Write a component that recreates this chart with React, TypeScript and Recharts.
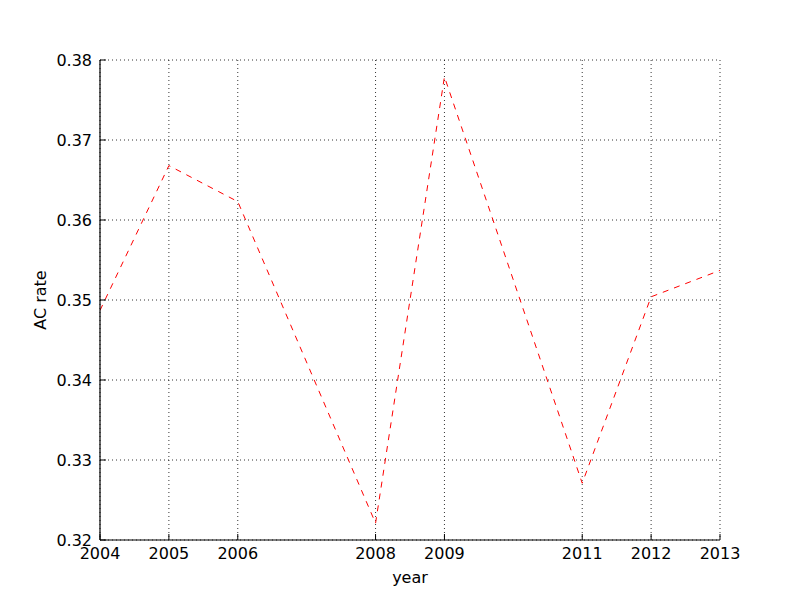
import { LineChart, Line, XAxis, YAxis, CartesianGrid } from 'recharts';

const years = [2004, 2005, 2006, 2008, 2009, 2011, 2012, 2013];
const acRate = [0.3487, 0.3668, 0.3623, 0.3221, 0.3779, 0.3271, 0.3504, 0.3537];
const yTicks = [0.32, 0.33, 0.34, 0.35, 0.36, 0.37, 0.38];

const data = years.map((year, i) => ({ year, rate: acRate[i] }));

const font = 'DejaVu Sans, sans-serif';
const tickStyle = { fontSize: 16, fill: '#000', fontFamily: font };
const axisLine = { stroke: '#000', strokeWidth: 1.2 };
const tickLine = { stroke: '#000', strokeWidth: 1 };

function YLabel(props: any) {
  const vb = props.viewBox || {};
  const cx = 40;
  const cy = vb.y + vb.height / 2;
  return (
    <text
      x={cx}
      y={cy}
      transform={`rotate(-90 ${cx} ${cy})`}
      textAnchor="middle"
      dominantBaseline="central"
      fontSize={16}
      fontFamily={font}
      fill="#000"
    >
      AC rate
    </text>
  );
}

export default function App() {
  return (
    <div style={{ position: 'absolute', left: 0, top: 0, background: '#fff' }}>
      <LineChart
        width={800}
        height={600}
        data={data}
        margin={{ top: 60, right: 80, bottom: 30, left: 40 }}
      >
        <CartesianGrid stroke="#000" strokeDasharray="1 3" strokeWidth={0.8} />
        <XAxis
          dataKey="year"
          type="number"
          domain={[2004, 2013]}
          ticks={years}
          allowDataOverflow
          height={30}
          tickSize={-6}
          tickMargin={14}
          tick={tickStyle}
          axisLine={axisLine}
          tickLine={tickLine}
          label={{ value: 'year', position: 'bottom', offset: 2, fontSize: 16, fill: '#000', fontFamily: font }}
        />
        <XAxis
          xAxisId="top"
          orientation="top"
          dataKey="year"
          type="number"
          domain={[2004, 2013]}
          ticks={years}
          allowDataOverflow
          height={0}
          tickSize={-6}
          tickFormatter={() => ''}
          axisLine={axisLine}
          tickLine={tickLine}
        />
        <YAxis
          type="number"
          domain={[0.32, 0.38]}
          ticks={yTicks}
          allowDataOverflow
          width={60}
          tickSize={-6}
          tickMargin={14}
          tick={tickStyle}
          tickFormatter={(v: number) => v.toFixed(2)}
          axisLine={axisLine}
          tickLine={tickLine}
          label={{ content: (p: any) => <YLabel {...p} /> }}
        />
        <YAxis
          yAxisId="right"
          orientation="right"
          type="number"
          domain={[0.32, 0.38]}
          ticks={yTicks}
          allowDataOverflow
          width={0}
          tickSize={-6}
          tickFormatter={() => ''}
          axisLine={axisLine}
          tickLine={tickLine}
        />
        <Line
          type="linear"
          dataKey="rate"
          stroke="#ff0000"
          strokeWidth={1}
          strokeDasharray="6 6"
          dot={false}
          isAnimationActive={false}
        />
      </LineChart>
    </div>
  );
}
